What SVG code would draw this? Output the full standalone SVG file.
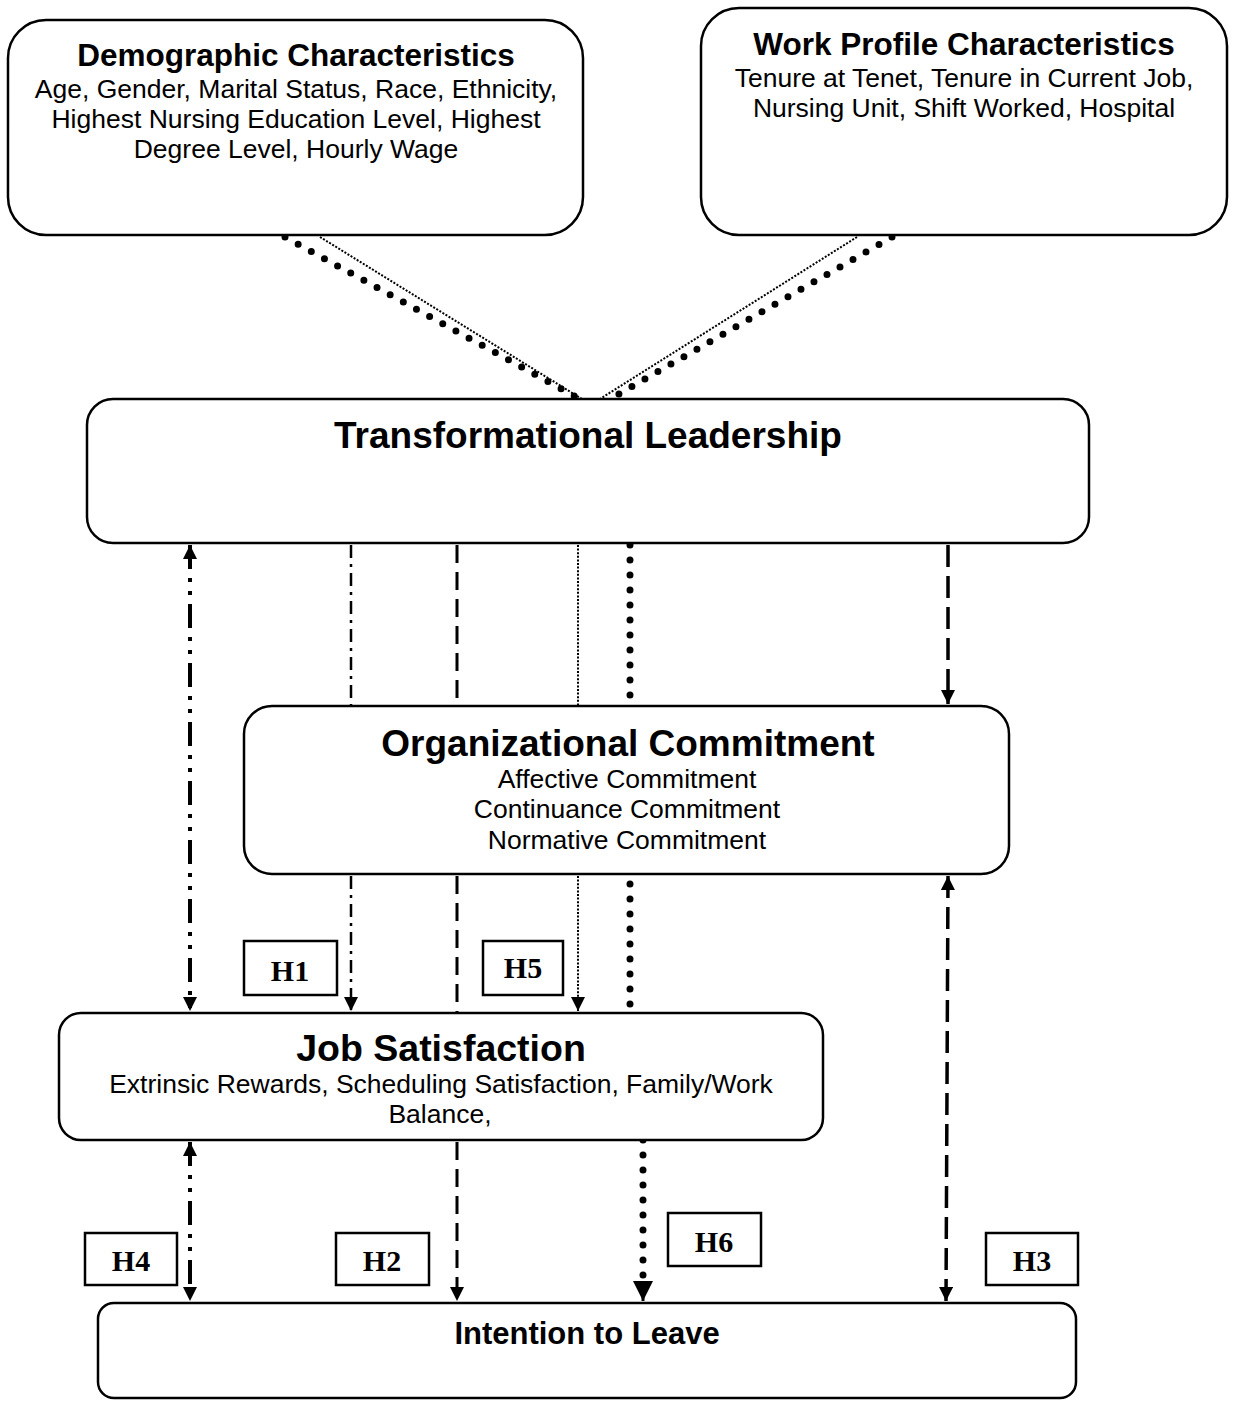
<svg xmlns="http://www.w3.org/2000/svg" width="1235" height="1401" viewBox="0 0 1235 1401">
<defs>
<marker id="arr" viewBox="0 0 14 14" refX="14" refY="7" markerWidth="14" markerHeight="14" markerUnits="userSpaceOnUse" orient="auto-start-reverse">
<path d="M0,0 L14,7 L0,14 z" fill="#000"/>
</marker>
<marker id="arrBig" viewBox="0 0 18 18" refX="18" refY="9" markerWidth="20" markerHeight="20" markerUnits="userSpaceOnUse" orient="auto-start-reverse">
<path d="M0,0 L18,9 L0,18 z" fill="#000"/>
</marker>
<style>
.box{fill:#fff;stroke:#000;stroke-width:2.5}
.hbox{fill:#fff;stroke:#000;stroke-width:2.5}
.title{font-family:"Liberation Sans",Arial,sans-serif;font-weight:bold;fill:#000;text-anchor:middle}
.sub{font-family:"Liberation Sans",Arial,sans-serif;font-size:26.5px;fill:#000;text-anchor:middle}
.hl{font-family:"Liberation Serif","Times New Roman",serif;font-weight:bold;font-size:30px;fill:#000;text-anchor:middle}
.c{fill:none;stroke:#000}
.bigdot{stroke-width:7;stroke-dasharray:0 15;stroke-linecap:round}
.fine{stroke-width:2;stroke-dasharray:2 1.6}
.dashdotdot{stroke-width:4;stroke-dasharray:24 9 4 9 4 9}
.dashdot{stroke-width:2.5;stroke-dasharray:13 6 3 6}
.dash{stroke-width:3;stroke-dasharray:18 9}
.dashthick{stroke-width:3.5;stroke-dasharray:22 9}
</style>
</defs>

<g id="connectors">
<line class="c bigdot" x1="285" y1="237" x2="578" y2="398"/>
<line class="c fine" x1="320" y1="237" x2="590" y2="404"/>
<line class="c fine" x1="857" y1="237" x2="592" y2="404"/>
<line class="c bigdot" x1="892" y1="237" x2="612" y2="398"/>

<line class="c dashdotdot" x1="190" y1="545" x2="190" y2="1011" marker-start="url(#arr)" marker-end="url(#arr)"/>
<line class="c dashdot" x1="351" y1="545" x2="351" y2="706"/>
<line class="c dashdot" x1="351" y1="876" x2="351" y2="1011" marker-end="url(#arr)"/>
<line class="c dash" x1="457" y1="545" x2="457" y2="706"/>
<line class="c dash" x1="457" y1="876" x2="457" y2="1013"/>
<line class="c dash" x1="457" y1="1142" x2="457" y2="1301" marker-end="url(#arr)"/>
<line class="c fine" x1="578" y1="545" x2="578" y2="706"/>
<line class="c fine" x1="578" y1="876" x2="578" y2="1011" marker-end="url(#arr)"/>
<line class="c bigdot" x1="630" y1="545" x2="630" y2="706"/>
<line class="c bigdot" x1="630" y1="884" x2="630" y2="1015"/>
<line class="c bigdot" x1="643" y1="1140" x2="643" y2="1281"/>
<line class="c" stroke-width="3" x1="643" y1="1281" x2="643" y2="1301" marker-end="url(#arrBig)"/>
<line class="c dashthick" x1="948" y1="545" x2="948" y2="704" marker-end="url(#arr)"/>
<line class="c dashthick" x1="948" y1="876" x2="946" y2="1301" marker-start="url(#arr)" marker-end="url(#arr)"/>
<line class="c dashdotdot" x1="190" y1="1142" x2="190" y2="1301" marker-start="url(#arr)" marker-end="url(#arr)"/>
</g>

<g id="demographic">
<rect class="box" x="8" y="20" width="575" height="215" rx="38"/>
<text class="title" x="296" y="66" font-size="31.5">Demographic Characteristics</text>
<text class="sub" x="296" y="98">Age, Gender, Marital Status, Race, Ethnicity,</text>
<text class="sub" x="296" y="128">Highest Nursing Education Level, Highest</text>
<text class="sub" x="296" y="158">Degree Level, Hourly Wage</text>
</g>

<g id="workprofile">
<rect class="box" x="701" y="8" width="526" height="227" rx="38"/>
<text class="title" x="964" y="55" font-size="31.5">Work Profile Characteristics</text>
<text class="sub" x="964" y="87" font-size="27">Tenure at Tenet, Tenure in Current Job,</text>
<text class="sub" x="964" y="117" font-size="27">Nursing Unit, Shift Worked, Hospital</text>
</g>

<g id="transformational">
<rect class="box" x="87" y="399" width="1002" height="144" rx="26"/>
<text class="title" x="588" y="448" font-size="37">Transformational Leadership</text>
</g>

<g id="orgcommitment">
<rect class="box" x="244" y="706" width="765" height="168" rx="28"/>
<text class="title" x="628" y="756" font-size="37">Organizational Commitment</text>
<text class="sub" x="627" y="788">Affective Commitment</text>
<text class="sub" x="627" y="818">Continuance Commitment</text>
<text class="sub" x="627" y="849">Normative Commitment</text>
</g>

<g id="jobsatisfaction">
<rect class="box" x="59" y="1013" width="764" height="127" rx="22"/>
<text class="title" x="441" y="1061" font-size="37.5">Job Satisfaction</text>
<text class="sub" x="441" y="1093">Extrinsic Rewards, Scheduling Satisfaction, Family/Work</text>
<text class="sub" x="440" y="1123">Balance,</text>
</g>

<g id="intention">
<rect class="box" x="98" y="1303" width="978" height="95" rx="16"/>
<text class="title" x="587" y="1344" font-size="31">Intention to Leave</text>
</g>

<g id="h1"><rect class="hbox" x="244" y="941" width="93" height="54"/><text class="hl" x="290" y="981">H1</text></g>
<g id="h5"><rect class="hbox" x="483" y="941" width="80" height="54"/><text class="hl" x="523" y="978" font-size="25">H5</text></g>
<g id="h4"><rect class="hbox" x="85" y="1233" width="92" height="52"/><text class="hl" x="131" y="1271">H4</text></g>
<g id="h2"><rect class="hbox" x="336" y="1233" width="93" height="52"/><text class="hl" x="382" y="1271">H2</text></g>
<g id="h6"><rect class="hbox" x="668" y="1213" width="93" height="53"/><text class="hl" x="714" y="1252">H6</text></g>
<g id="h3"><rect class="hbox" x="986" y="1233" width="92" height="52"/><text class="hl" x="1032" y="1271">H3</text></g>
</svg>
